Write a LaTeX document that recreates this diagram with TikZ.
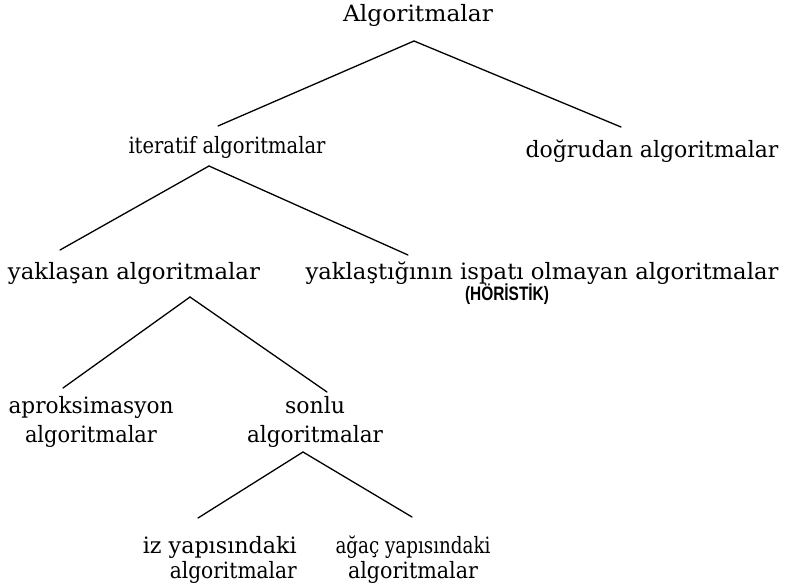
\documentclass[tikz,border=0pt]{standalone}
\usepackage{fontspec}
\setmainfont{DejaVu Serif}
\newfontfamily\heurfont{Liberation Sans}
\usetikzlibrary{calc}
\newsavebox\fitbox
\newcommand\fitx[2]{\sbox\fitbox{#2}\edef\fitratio{\fpeval{#1/\the\wd\fitbox}}\scalebox{\fitratio}[1]{\usebox\fitbox}}
\begin{document}
\begin{tikzpicture}[x=1pt,y=-1pt,
  lbl/.style={inner sep=0pt, font=\fontsize{22.5}{29}\selectfont},
  lbltight/.style={inner sep=0pt, font=\fontsize{22.5}{25}\selectfont},
  heur/.style={inner sep=0pt, font=\heurfont\bfseries\fontsize{19.5}{22}\selectfont},
  conn/.style={line width=1.3pt, line cap=round}]
\useasboundingbox (0,0) rectangle (792,586);
\node[lbl,anchor=base] (root) at (418,22) {\fitx{150}{Algoritmalar}};
\node[lbl,anchor=base] (iter) at (227,153) {\fitx{197}{iteratif algoritmalar}};
\node[lbl,anchor=base] (dog) at (652,157) {\fitx{253}{doğrudan algoritmalar}};
\node[lbl,anchor=base] (yak) at (134,279) {\fitx{252}{yaklaşan algoritmalar}};
\node[lbl,anchor=base] (nopr) at (542,279) {\fitx{473}{yaklaştığının ispatı olmayan algoritmalar}};
\node[heur,anchor=base] (heurnode) at (507,300) {\fitx{84}{(HÖRİSTİK)}};
\node[lbl,anchor=north,align=center] (aprok) at (91,396) {\fitx{165}{aproksimasyon}\\\fitx{132}{algoritmalar}};
\node[lbl,anchor=north,align=center] (sonlu) at (315,396) {\fitx{60}{sonlu}\\\fitx{136}{algoritmalar}};
\node[lbltight,anchor=north east,align=right] (iz) at (297,536) {\fitx{154}{iz yapısındaki}\\\fitx{127}{algoritmalar}};
\node[lbltight,anchor=north,align=center] (agac) at (413,536) {\fitx{155}{ağaç yapısındaki}\\\fitx{130}{algoritmalar}};
\draw[conn] ($(root.base)+(-4,19)$) -- ($(iter.base)+(-9,-27)$);
\draw[conn] ($(root.base)+(-4,19)$) -- ($(dog.base)+(-31,-30)$);
\draw[conn] ($(iter.base)+(-18,13)$) -- ($(yak.base)+(-74,-29)$);
\draw[conn] ($(iter.base)+(-18,13)$) -- ($(nopr.base)+(-134,-24)$);
\draw[conn] ($(yak.base)+(56,18)$) -- ($(aprok.north)+(-28,-8)$);
\draw[conn] ($(yak.base)+(56,18)$) -- ($(sonlu.north)+(12,-4)$);
\draw[conn] ($(sonlu.north)+(-12,56)$) -- ($(iz.north east)+(-99,-18)$);
\draw[conn] ($(sonlu.north)+(-12,56)$) -- ($(agac.north)+(-1,-19)$);
\end{tikzpicture}
\end{document}
